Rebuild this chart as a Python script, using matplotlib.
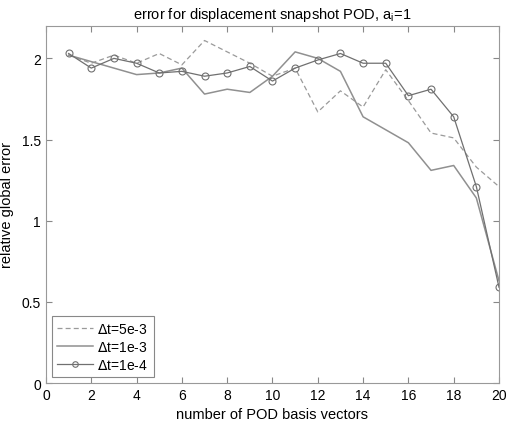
import numpy as np
import matplotlib.pyplot as plt

plt.rcParams['font.family'] = ['Liberation Sans', 'DejaVu Sans']

n = list(range(1, 21))
err_5e3 = [2.02, 1.97, 2.02, 1.97, 2.03, 1.96, 2.11, 2.04, 1.97, 1.89,
           1.94, 1.67, 1.80, 1.70, 1.93, 1.74, 1.54, 1.51, 1.33, 1.21]
err_1e3 = [2.02, 1.98, 1.94, 1.90, 1.91, 1.94, 1.78, 1.81, 1.79, 1.89,
           2.04, 2.00, 1.92, 1.64, 1.56, 1.48, 1.31, 1.34, 1.14, 0.63]
err_1e4 = [2.03, 1.94, 2.00, 1.97, 1.91, 1.92, 1.89, 1.91, 1.95, 1.86,
           1.94, 1.99, 2.03, 1.97, 1.97, 1.77, 1.81, 1.64, 1.21, 0.59]

fig = plt.figure(figsize=(5.07, 4.27), dpi=100)
ax = fig.add_axes([0.0907, 0.1007, 0.8935, 0.8363])

ax.plot(n, err_5e3, '--', color='#9a9a9a', lw=0.9, dashes=(4, 2.5), label=r'$\Delta$t=5e-3')
ax.plot(n, err_1e3, '-', color='#909090', lw=1.1, label=r'$\Delta$t=1e-3')
ax.plot(n, err_1e4, '-o', color='#707070', lw=0.9, ms=5, mfc='none', mew=0.8,
        label=r'$\Delta$t=1e-4')

ax.set_xlim(0, 20)
ax.set_ylim(0, 2.2)
ax.set_xticks(range(0, 21, 2))
ax.set_yticks([0, 0.5, 1, 1.5, 2])
ax.set_yticklabels(['0', '0.5', '1', '1.5', '2'])
ax.tick_params(direction='in', top=True, right=True, length=4, labelsize=10,
               color='#888888')
for s in ax.spines.values():
    s.set_color('#999999')

ax.set_xlabel('number of POD basis vectors', fontsize=10.5)
ax.set_ylabel('relative global error', fontsize=10.5, labelpad=6)
ax.set_title(r'error for displacement snapshot POD, a$_\mathregular{i}$=1', fontsize=10.5)

leg = ax.legend(loc='lower left', fontsize=10, fancybox=False, framealpha=1,
                edgecolor='#888888', handlelength=2.6, borderaxespad=0.4,
                labelspacing=0.3, handletextpad=0.3, borderpad=0.4)
leg.get_frame().set_linewidth(0.8)
leg.legend_handles[2].set_markersize(4)

fig.savefig('out.png', dpi=100)
